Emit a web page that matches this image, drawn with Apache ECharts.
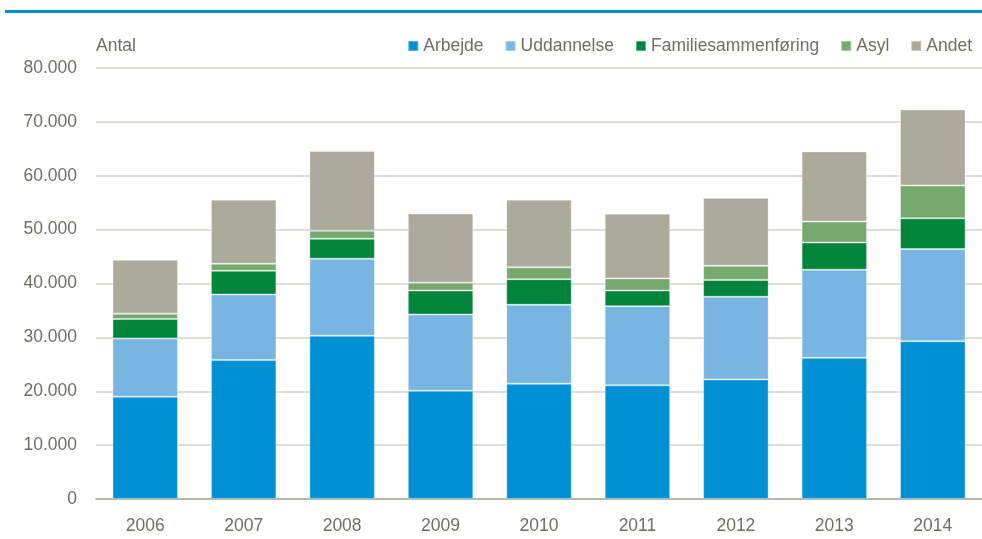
<!DOCTYPE html>
<html lang="da">
<head>
    <meta charset="UTF-8">
    <title>Antal</title>
    <script src="https://cdn.jsdelivr.net/npm/echarts@6/dist/echarts.min.js"></script>
</head>
<body style="margin:0">
<div class="main" style="width:982px;height:539px;"></div>
</body>
<script>
    let years = ['2006', '2007', '2008', '2009', '2010', '2011', '2012', '2013', '2014'];
    let names = ['Arbejde', 'Uddannelse', 'Familiesammenføring', 'Asyl', 'Andet'];
    let colors = ['#0090d4', '#77b5e3', '#00853b', '#77a96f', '#acaa9b'];
    // values per category (each segment, not cumulative)
    let arbejde = [19000, 25800, 30300, 20100, 21400, 21100, 22200, 26200, 29300];
    let uddannelse = [10800, 12150, 14300, 14150, 14650, 14700, 15350, 16350, 17100];
    let familie = [3600, 4400, 3700, 4450, 4750, 2900, 3100, 5050, 5700];
    let asyl = [1000, 1300, 1500, 1450, 2200, 2250, 2650, 3900, 6100];
    let andet = [10000, 11900, 14800, 12850, 12550, 12000, 12600, 13000, 14100];
    let yTicks = [0, 10000, 20000, 30000, 40000, 50000, 60000, 70000, 80000];

    let font = "'Liberation Sans Narrow', 'Arial Narrow', 'Liberation Sans', sans-serif";
    let fs = 17.5;
    let txt = '#6f6f61';

    let myChart = echarts.init(document.querySelector('.main'));
    let series = [arbejde, uddannelse, familie, asyl, andet].map((vals, i) => ({
        name: names[i],
        type: 'bar',
        stack: 'total',
        barWidth: '66.5%',
        data: vals,
        itemStyle: {
            color: colors[i],
            borderColor: 'rgba(255,255,255,0.35)',
            borderWidth: 1
        }
    }));

    let option = {
        animation: false,
        backgroundColor: '#fff',
        textStyle: {fontFamily: font},
        graphic: [{
            type: 'rect',
            shape: {x: 5, y: 10, width: 977, height: 3},
            style: {fill: '#0090d4'}
        }],
        legend: {
            data: names,
            right: 5,
            top: 32,
            icon: 'rect',
            itemWidth: 10,
            itemHeight: 10,
            itemGap: 21,
            textStyle: {fontFamily: font, fontSize: fs, color: txt}
        },
        grid: {left: 96, right: -8, top: 68, bottom: 40, containLabel: false},
        xAxis: {
            type: 'category',
            data: years,
            axisTick: {show: false},
            axisLine: {lineStyle: {color: '#a9a99b', width: 1.5}},
            axisLabel: {fontFamily: font, fontSize: fs, color: txt, margin: 18}
        },
        yAxis: {
            type: 'value',
            min: yTicks[0],
            max: yTicks[yTicks.length - 1],
            interval: 10000,
            name: 'Antal',
            nameLocation: 'end',
            nameGap: 13,
            nameTextStyle: {fontFamily: font, fontSize: fs, color: txt, align: 'left'},
            axisLine: {show: false},
            axisTick: {show: false},
            splitLine: {lineStyle: {color: '#d3d3c9', width: 1.5}},
            axisLabel: {
                fontFamily: font, fontSize: fs, color: txt, margin: 19,
                formatter: v => v === 0 ? '0' : v.toLocaleString('da-DK')
            }
        },
        series
    };
    myChart.setOption(option);
</script>
</html>
